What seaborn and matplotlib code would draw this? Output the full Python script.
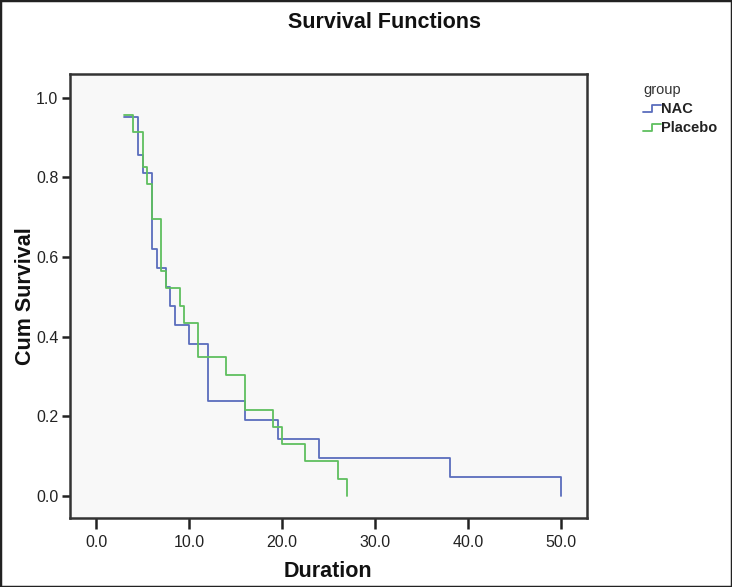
import matplotlib
matplotlib.use("Agg")
import matplotlib.pyplot as plt
from matplotlib.lines import Line2D
from matplotlib.legend_handler import HandlerBase
from matplotlib.patches import Rectangle
from matplotlib.ticker import FormatStrFormatter
import seaborn as sns
import pandas as pd

# ---- data ----
nac_time = [3, 4.5, 5, 6, 6.5, 7.5, 8, 8.5, 10, 12, 16, 19.5, 24, 38, 50]
nac_surv = [0.952, 0.857, 0.810, 0.619, 0.571, 0.524, 0.476, 0.429, 0.381,
            0.238, 0.190, 0.143, 0.095, 0.048, 0.0]
plc_time = [3, 4, 5, 5.5, 6, 7, 7.5, 9, 9.5, 11, 14, 16, 19, 20, 22.5, 26, 27]
plc_surv = [0.957, 0.913, 0.826, 0.783, 0.696, 0.565, 0.522, 0.478, 0.435,
            0.348, 0.304, 0.217, 0.174, 0.130, 0.087, 0.043, 0.0]
groups = ["NAC", "Placebo"]
x_ticks = [0, 10, 20, 30, 40, 50]
y_ticks = [0.0, 0.2, 0.4, 0.6, 0.8, 1.0]

df = pd.concat([
    pd.DataFrame({"Duration": nac_time, "Cum Survival": nac_surv, "group": groups[0]}),
    pd.DataFrame({"Duration": plc_time, "Cum Survival": plc_surv, "group": groups[1]}),
], ignore_index=True)

sns.set_style("white")
plt.rcParams["font.family"] = ["Liberation Sans", "DejaVu Sans"]

colors = {"NAC": "#5a6dbd", "Placebo": "#5fbf5f"}

fig = plt.figure(figsize=(7.32, 5.87), dpi=100)
ax = fig.add_axes([69.5 / 732, 1 - 518 / 587, (587 - 69.5) / 732, (518 - 74) / 587])
ax.set_facecolor("#f8f8f8")

sns.lineplot(data=df, x="Duration", y="Cum Survival", hue="group",
             palette=colors, drawstyle="steps-post", estimator=None,
             linewidth=1.3, ax=ax, legend=False)

ax.set_xlim(-2.85, 52.75)
ax.set_ylim(-0.055, 1.059)
ax.set_xticks(x_ticks)
ax.set_yticks(y_ticks)
ax.xaxis.set_major_formatter(FormatStrFormatter("%.1f"))
ax.yaxis.set_major_formatter(FormatStrFormatter("%.1f"))
ax.tick_params(axis="both", direction="out", length=6, width=1.8, color="#222222",
               labelsize=11.5, labelcolor="#222222", pad=2, bottom=True, left=True)
ax.tick_params(axis="x", length=8, pad=4)
for s in ax.spines.values():
    s.set_color("#333333")
    s.set_linewidth(1.8)
    s.set_visible(True)

ax.set_xlabel("Duration", fontsize=15.5, fontweight="bold", labelpad=8, color="#111111")
ax.set_ylabel("Cum Survival", fontsize=15.5, fontweight="bold", labelpad=0, color="#111111")

fig.text(385 / 732, 1 - 23 / 587, "Survival Functions", ha="center", va="center",
         fontsize=15.5, fontweight="bold", color="#111111")


class StepHandler(HandlerBase):
    def create_artists(self, legend, orig_handle, xdescent, ydescent, width, height, fontsize, trans):
        x0, x1 = -xdescent, -xdescent + width
        ym = -ydescent + height * 0.15
        yt = -ydescent + height * 0.85
        xs = [x0, x0 + width * 0.5, x0 + width * 0.5, x1]
        ys = [ym, ym, yt, yt]
        line = Line2D(xs, ys, color=orig_handle.get_color(), linewidth=1.3, transform=trans)
        return [line]


handles = [Line2D([], [], color=colors[g]) for g in groups]
leg = fig.legend(handles, groups, title="group", loc="upper left",
                 bbox_to_anchor=(633 / 732, 1 - 73 / 587), frameon=False,
                 fontsize=10.5, title_fontsize=10.5, handlelength=1.2,
                 handletextpad=0.05, labelspacing=0.35, borderpad=0.2,
                 alignment="left",
                 handler_map={Line2D: StepHandler()})
for t in leg.get_texts():
    t.set_fontweight("bold")
    t.set_color("#222222")
leg.get_title().set_color("#333333")

fig.patches.append(Rectangle((0, 0), 1, 1, transform=fig.transFigure, fill=False,
                             edgecolor="#222222", linewidth=2.5, zorder=10))

fig.savefig("out.png", dpi=100)
